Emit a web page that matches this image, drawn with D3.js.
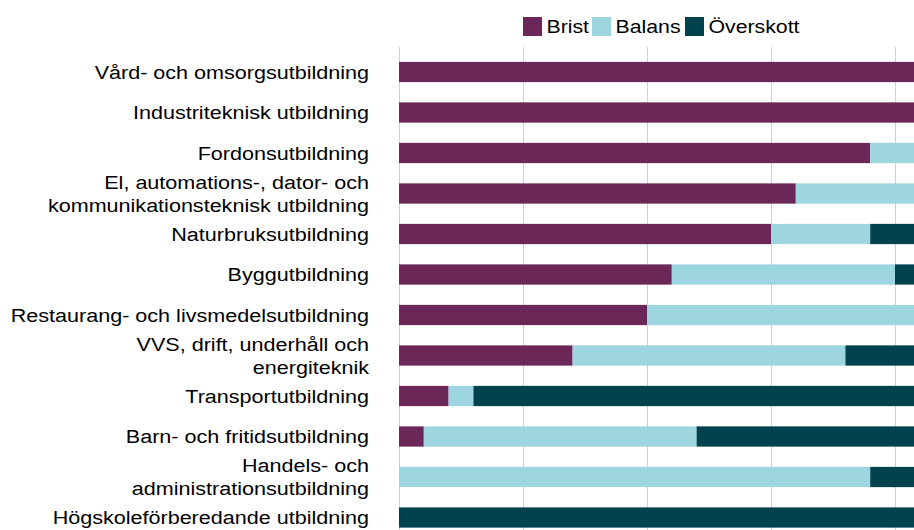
<!DOCTYPE html>
<html>
<head>
<meta charset="utf-8">
<script src="https://cdn.jsdelivr.net/npm/d3@7"></script>
<style>
  body { margin: 0; background: #fff; }
  svg { display: block; font-family: Arial, "Liberation Sans", sans-serif; }
</style>
</head>
<body>
<div id="chart"></div>
<script>
// utbildningsområden (antal regioner per bedömning)
const categories = [
  ["Vård- och omsorgsutbildning"],
  ["Industriteknisk utbildning"],
  ["Fordonsutbildning"],
  ["El, automations-, dator- och", "kommunikationsteknisk utbildning"],
  ["Naturbruksutbildning"],
  ["Byggutbildning"],
  ["Restaurang- och livsmedelsutbildning"],
  ["VVS, drift, underhåll och", "energiteknik"],
  ["Transportutbildning"],
  ["Barn- och fritidsutbildning"],
  ["Handels- och", "administrationsutbildning"],
  ["Högskoleförberedande utbildning"]
];
const brist     = [21, 21, 19, 16, 15, 11, 10, 7, 2, 1, 0, 0];
const balans    = [0, 0, 2, 5, 4, 9, 11, 11, 1, 11, 19, 0];
const overskott = [0, 0, 0, 0, 2, 1, 0, 3, 18, 9, 2, 21];
const seriesNames = ["Brist", "Balans", "Överskott"];
const colors = ["#6b2758", "#9dd5e0", "#00434e"];
const ticks = [0, 5, 10, 15, 20];

const width = 914, height = 530;
const x0 = 399, x1 = x0 + 21 * 24.8;
const stretch = 1.135; // text in the original is a bit wide

const rows = categories.map((c, i) => ({
  key: c.join(" "), lines: c,
  Brist: brist[i], Balans: balans[i], "Överskott": overskott[i]
}));

const svg = d3.select("#chart").append("svg")
  .attr("width", width).attr("height", height);

const x = d3.scaleLinear().domain([0, 21]).range([x0, x1]);
const y = d3.scaleBand().domain(rows.map(d => d.key))
  .range([51.75, 51.75 + 12 * 40.5]).paddingInner(0.5).paddingOuter(0.25);

// gridlines
svg.append("g").selectAll("line").data(ticks).join("line")
  .attr("x1", d => Math.round(x(d)) + 0.5).attr("x2", d => Math.round(x(d)) + 0.5)
  .attr("y1", 47).attr("y2", height)
  .attr("stroke", "#d0d0d0").attr("stroke-width", 1);

const stack = d3.stack().keys(seriesNames)(rows);

svg.append("g").selectAll("g").data(stack).join("g")
  .attr("fill", (d, i) => colors[i])
  .selectAll("rect").data(d => d).join("rect")
  .attr("x", d => x(d[0]))
  .attr("width", d => x(d[1]) - x(d[0]))
  .attr("y", d => y(d.data.key))
  .attr("height", y.bandwidth());

// category labels
const lab = svg.append("g").selectAll("text").data(rows).join("text")
  .attr("text-anchor", "end")
  .attr("font-size", 19)
  .attr("fill", "#000")
  .attr("transform", d => `translate(369,${y(d.key) + y.bandwidth() / 2}) scale(${stretch},1)`);
lab.selectAll("tspan").data(d => d.lines.map((t, i) => ({ t, i, n: d.lines.length })))
  .join("tspan")
  .attr("x", 0)
  .attr("dy", d => d.i === 0 ? (d.n === 1 ? "0.36em" : (0.36 - 0.6) + "em") : "1.2em")
  .text(d => d.t);

// legend
const legendX = [523, 592, 685];
const lg = svg.append("g").selectAll("g").data(seriesNames).join("g")
  .attr("transform", (d, i) => `translate(${legendX[i]},17)`);
lg.append("rect").attr("width", 19).attr("height", 19)
  .attr("fill", (d, i) => colors[i]);
lg.append("text")
  .attr("transform", `translate(23.5,9.5) scale(1.12,1)`)
  .attr("dy", "0.36em")
  .attr("font-size", 19).attr("fill", "#000").text(d => d);
</script>
</body>
</html>
